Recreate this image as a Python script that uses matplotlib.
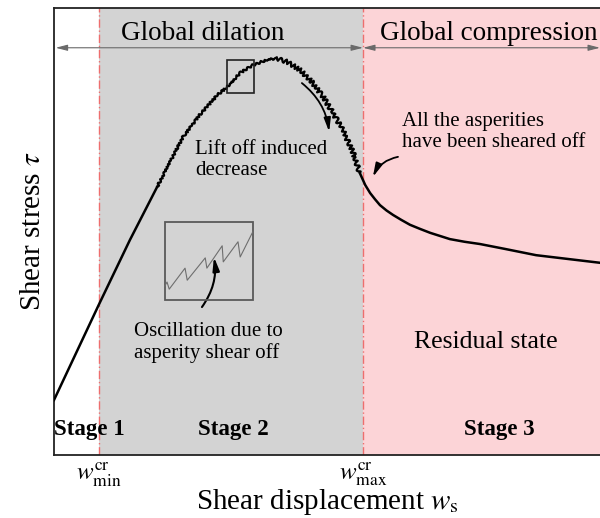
import numpy as np
import matplotlib
matplotlib.use("Agg")
from matplotlib import pyplot as plt
from matplotlib.patches import Rectangle

plt.rcParams['font.family'] = ['Liberation Serif', 'DejaVu Serif']
plt.rcParams['mathtext.fontset'] = 'stix'

# shear stress curve (arbitrary units)
disp = [0.00, 0.82, 1.39, 1.89, 2.36, 2.67, 2.99, 3.17, 3.41, 3.64, 3.90, 4.08, 4.27,
        4.51, 4.74, 4.93, 5.11, 5.29, 5.48, 5.60, 5.70, 5.79, 5.88, 5.97, 6.09, 6.21,
        6.36, 6.52, 6.70, 6.89, 7.07, 7.25, 7.52, 7.80, 8.26, 8.83, 10.0]
stress = [1.23, 3.36, 4.81, 6.00, 7.11, 7.61, 8.05, 8.23, 8.55, 8.72, 8.84, 8.88, 8.79,
          8.61, 8.32, 8.01, 7.65, 7.27, 6.76, 6.31, 6.04, 5.86, 5.72, 5.59, 5.47, 5.37,
          5.26, 5.15, 5.06, 4.97, 4.90, 4.83, 4.77, 4.72, 4.61, 4.47, 4.30]

# zoomed sawtooth inside the inset box
zoom_x = [2.03, 2.07, 2.11, 2.40, 2.44, 2.77, 2.80, 3.08, 3.10, 3.37, 3.41, 3.64]
zoom_y = [3.78, 3.87, 3.71, 4.18, 3.91, 4.41, 4.18, 4.68, 4.32, 4.77, 4.43, 4.99]

w_min = 0.82
w_max = 5.66
x_end = 10.0
tick_labels = [r'$w_{\mathrm{min}}^{\mathrm{cr}}$', r'$w_{\mathrm{max}}^{\mathrm{cr}}$']

fig = plt.figure(figsize=(6.0, 5.18), dpi=100)
ax = fig.add_axes([0.09, 0.1216, 0.91, 0.863])
ax.set_xlim(0, x_end)
ax.set_ylim(0, 10)

ax.axvspan(w_min, w_max, color='#d3d3d3', lw=0, zorder=0)
ax.axvspan(w_max, x_end, color='#fcd4d7', lw=0, zorder=0)
for xv in (w_min, w_max):
    ax.axvline(xv, color='#ee6e6e', lw=1.0, ls=(0, (6, 2, 1, 2)), zorder=1)

# main curve: smooth ends, oscillating middle (asperity shear off)
disp = np.array(disp)
stress = np.array(stress)
smooth_a = disp <= 1.89
rise = (disp >= 1.89) & (disp <= 4.08)
fall = (disp >= 4.08) & (disp <= 5.60)
smooth_b = disp >= 5.60
ax.plot(disp[smooth_a], stress[smooth_a], color='black', lw=1.8, zorder=3)
ax.plot(disp[smooth_b], stress[smooth_b], color='black', lw=1.8, zorder=3)
line_rise, = ax.plot(disp[rise], stress[rise], color='black', lw=1.6, zorder=3)
line_rise.set_sketch_params(1.1, 4.0, 2.0)
line_fall, = ax.plot(disp[fall], stress[fall], color='black', lw=1.6, zorder=3)
line_fall.set_sketch_params(2.2, 5.0, 2.0)

# inset zoom box and the marker box on the curve
ax.add_patch(Rectangle((3.17, 8.10), 0.49, 0.74, fill=False, ec='#222222', lw=1.2, zorder=4))
ax.add_patch(Rectangle((2.03, 3.47), 1.61, 1.74, fill=False, ec='#5a5a5a', lw=1.3, zorder=4))
ax.plot(zoom_x, zoom_y, color='#6e6e6e', lw=0.8, zorder=4)

# global dilation / compression arrows
arrow_kw = dict(arrowstyle='<|-|>,head_length=0.7,head_width=0.18', color='#6a6a6a', lw=0.8,
                shrinkA=0, shrinkB=0)
ax.annotate('', xy=(0.03, 9.11), xytext=(w_max, 9.11), arrowprops=arrow_kw)
ax.annotate('', xy=(w_max, 9.11), xytext=(x_end, 9.11), arrowprops=arrow_kw, annotation_clip=False)
ax.text(2.73, 9.44, 'Global dilation', ha='center', va='center', fontsize=19.5)
ax.text(5.97, 9.44, 'Global compression', ha='left', va='center', fontsize=19.5, clip_on=True)

# annotations
ax.text(2.58, 6.60, 'Lift off induced\ndecrease', ha='left', va='center', fontsize=15,
        linespacing=1.15)
ax.annotate('', xy=(5.04, 7.23), xytext=(4.54, 8.32),
            arrowprops=dict(arrowstyle='-|>,head_length=0.8,head_width=0.2', color='black',
                            lw=1.3, connectionstyle='arc3,rad=-0.2', shrinkA=0, shrinkB=0))
ax.text(6.37, 7.23, 'All the asperities\nhave been sheared off', ha='left', va='center',
        fontsize=15, linespacing=1.15)
ax.annotate('', xy=(5.84, 6.22), xytext=(6.30, 6.67),
            arrowprops=dict(arrowstyle='-|>,head_length=0.8,head_width=0.2', color='black',
                            lw=1.3, connectionstyle='arc3,rad=0.25', shrinkA=0, shrinkB=0))
ax.text(1.47, 2.51, 'Oscillation due to\nasperity shear off', ha='left', va='center',
        fontsize=15, linespacing=1.15)
ax.annotate('', xy=(2.93, 4.43), xytext=(2.71, 3.31),
            arrowprops=dict(arrowstyle='-|>,head_length=0.8,head_width=0.2', color='black',
                            lw=1.5, connectionstyle='arc3,rad=0.2', shrinkA=0, shrinkB=0))
ax.text(7.91, 2.53, 'Residual state', ha='center', va='center', fontsize=18.5)

ax.text(0.0, 0.56, 'Stage 1', ha='left', va='center', fontsize=16.5, fontweight='bold')
ax.text(3.28, 0.56, 'Stage 2', ha='center', va='center', fontsize=16.5, fontweight='bold')
ax.text(8.15, 0.56, 'Stage 3', ha='center', va='center', fontsize=16.5, fontweight='bold')

ax.set_xticks([w_min, w_max])
ax.set_xticklabels(tick_labels, fontsize=18)
ax.set_yticks([])
ax.tick_params(axis='x', length=0, pad=4)
ax.set_xlabel(r'Shear displacement $w_\mathrm{s}$', fontsize=21, labelpad=-1)
ax.set_ylabel(r'Shear stress $\tau$', fontsize=21, labelpad=6)
ax.spines['right'].set_visible(False)
for s in ('left', 'top', 'bottom'):
    ax.spines[s].set_linewidth(1.3)
    ax.spines[s].set_color('#222222')

fig.savefig('out.png', dpi=100)
